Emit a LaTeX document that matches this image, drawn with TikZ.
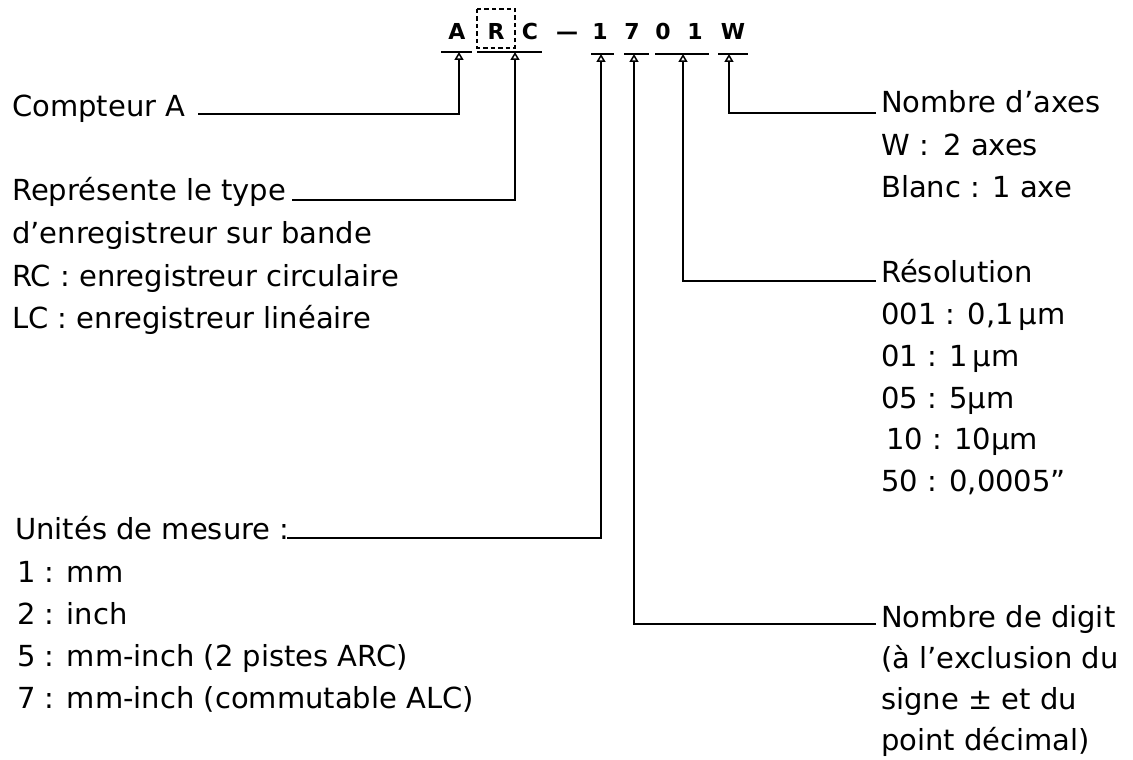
\documentclass[tikz,border=0pt]{standalone}
\usepackage{fontspec}
\setmainfont{DejaVu Sans}
\usetikzlibrary{arrows.meta}
\begin{document}
\begin{tikzpicture}[x=1pt,y=-1pt,
  lbl/.style={anchor=base west, inner sep=0pt, font=\fontsize{29}{43}\selectfont},
  code/.style={anchor=base, inner sep=0pt, font=\fontsize{22}{25}\selectfont\bfseries},
  conn/.style={line width=2.1pt, -{Triangle[open,length=8pt,width=9pt,line width=1.5pt]}},
  uline/.style={line width=2pt},
  boxd/.style={line width=1.6pt, dash pattern=on 4.5pt off 3pt}
  ]
\useasboundingbox (0,0) rectangle (1133,760);

% code
\node[code] (cA) at (457,40) {A};
\node[code] (cR) at (496,40) {R};
\node[code] (cC) at (530,40) {C};
\node[code] (cdash) at (567,40) {—};
\node[code] (c1) at (600,40) {1};
\node[code] (c7) at (632,40) {7};
\node[code] (c0) at (663,40) {0};
\node[code] (c1b) at (695,40) {1};
\node[code] (cW) at (733,40) {W};
\draw[boxd] (477,9) rectangle (515,48);

% underlines
\draw[uline] (441,52) -- (472,52);
\draw[uline] (477,52) -- (542,52);
\draw[uline] (591,54) -- (614,54);
\draw[uline] (624,54) -- (649,54);
\draw[uline] (655,54) -- (709,54);
\draw[uline] (718,54) -- (748,54);

% left labels
\node[lbl] (l1) at (12,117) {Compteur A};
\node[lbl] (l2) at (12,200) {Représente le type};
\node[lbl] (l3) at (12,243) {d'enregistreur sur bande};
\node[lbl] (l4) at (12,286) {RC : enregistreur circulaire};
\node[lbl] (l5) at (12,328) {LC : enregistreur linéaire};
\node[lbl] (u0) at (15,539) {Unités de mesure :};
\node[lbl] (u1) at (17,582) {1 : mm};
\node[lbl] (u2) at (17,624) {2 : inch};
\node[lbl] (u3) at (17,666) {5 : mm-inch (2 pistes ARC)};
\node[lbl] (u4) at (17,708) {7 : mm-inch (commutable ALC)};

% right labels
\node[lbl] (w0) at (881,112) {Nombre d'axes};
\node[lbl] (w1) at (881,155) {W :\enspace 2 axes};
\node[lbl] (w2) at (881,197) {Blanc : 1 axe};
\node[lbl] (r0) at (881,282) {Résolution};
\node[lbl] (r1) at (881,324) {001 : 0,1\,µm};
\node[lbl] (r2) at (881,366) {01 : 1\,µm};
\node[lbl] (r3) at (881,408) {05 : 5µm};
\node[lbl] (r4) at (886,449) {10 : 10µm};
\node[lbl] (r5) at (881,491) {50 : 0,0005"};
\node[lbl] (d0) at (881,627) {Nombre de digit};
\node[lbl] (d1) at (881,668) {(à l'exclusion du};
\node[lbl] (d2) at (881,709) {signe ± et du};
\node[lbl] (d3) at (881,750) {point décimal)};

% connector ends
\coordinate (sA) at (198,114);   \coordinate (tA) at (459,52);
\coordinate (sR) at (292,200);   \coordinate (tR) at (515,52);
\coordinate (sU) at (287,538);   \coordinate (t1) at (601,54);
\coordinate (sD) at (876,624);   \coordinate (t7) at (634,54);
\coordinate (sRes) at (876,281); \coordinate (t01) at (683,54);
\coordinate (sW) at (876,113);   \coordinate (tW) at (729,54);

\draw[conn] (sA) -| (tA);
\draw[conn] (sR) -| (tR);
\draw[conn] (sU) -| (t1);
\draw[conn] (sD) -| (t7);
\draw[conn] (sRes) -| (t01);
\draw[conn] (sW) -| (tW);
\end{tikzpicture}
\end{document}
